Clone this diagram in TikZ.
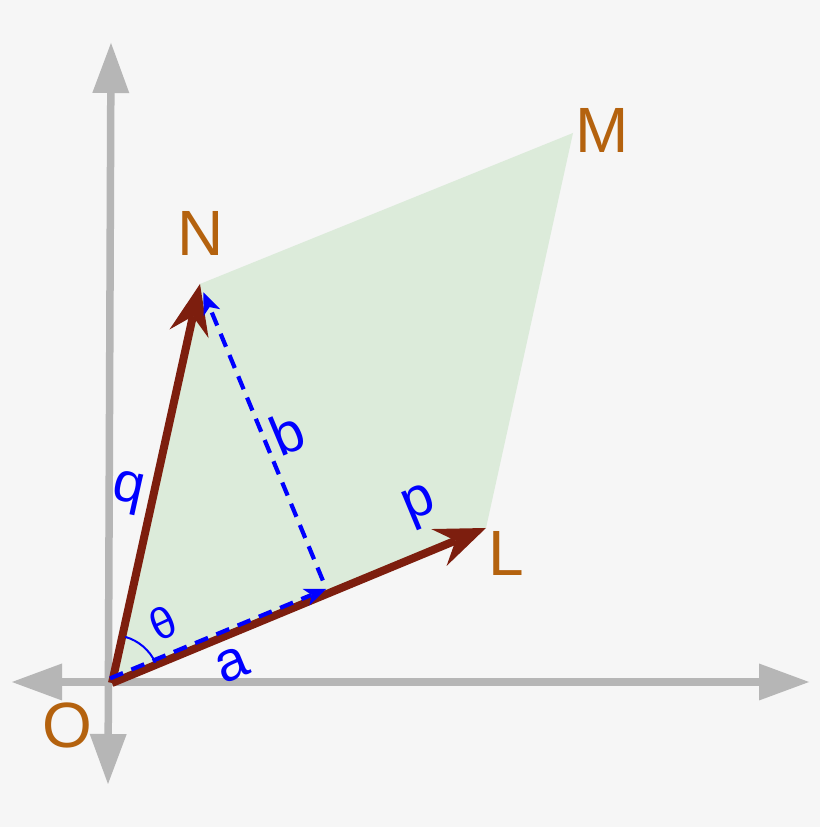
\documentclass[tikz,border=0pt]{standalone}
\usepackage{fontspec}
\setmainfont{Liberation Sans}
\usetikzlibrary{arrows.meta,calc}
\definecolor{bggray}{RGB}{246,246,246}
\definecolor{axisgray}{RGB}{182,182,182}
\definecolor{vecred}{RGB}{125,30,14}
\definecolor{ptorange}{RGB}{180,98,14}
\definecolor{areagreen}{RGB}{220,235,218}

\begin{document}
\begin{tikzpicture}[x=1pt,y=1pt,
  axis/.style={draw=axisgray,line width=7.5pt,arrows={Triangle[length=50pt,width=37pt,line width=0pt]-Triangle[length=50pt,width=37pt,line width=0pt]}},
  vec/.style={draw=vecred,line width=8pt,arrows={-Stealth[length=51pt,width=40pt,inset=18pt,line width=0pt]}},
  proj/.style={draw=blue,line width=4.2pt,dash pattern=on 14pt off 9pt,arrows={-Stealth[length=22pt,width=18pt,inset=6pt,line width=0pt]}},
  pt/.style={text=ptorange,inner sep=0pt,font=\fontsize{64}{64}\selectfont},
  lab/.style={text=blue,inner sep=0pt,font=\fontsize{56}{56}\selectfont}]
  \fill[bggray] (0,0) rectangle (820,827);   % background
  \useasboundingbox (0,0) rectangle (820,827);
  \coordinate (O) at (112,144);   % origin
  \coordinate (L) at (486,299);   % tip of p
  \coordinate (N) at (200,543);   % tip of q
  \coordinate (M) at (573,694);   % far corner
  \coordinate (F) at ($(O)!(N)!(L)$);   % foot of the height b
  \coordinate (Oa) at ($(O)+(-1.9,4.6)$);
  \coordinate (Fa) at ($(F)+(-1.9,4.6)$);
  \coordinate (xl) at (12,145);   % axis ends
  \coordinate (xr) at (809,145);
  \coordinate (yb) at (108,43);
  \coordinate (yt) at (111,784);
  \fill[areagreen] (O) -- (L) -- (M) -- (N) -- cycle;   % parallelogram
  \draw[axis] (xl) -- (xr);   % horizontal axis
  \draw[axis] (yb) -- (yt);   % vertical axis
  \draw[vec] (O) -- (L);   % vector p
  \draw[vec] (O) -- (N);   % vector q
  \draw[proj] (Oa) -- (Fa);   % projection a
  \draw[proj,shorten <=14pt,shorten >=9pt] (F) -- (N);   % height b
  \draw[blue,line width=2pt] ($(O)+(25:48)$) arc[start angle=25,end angle=74,radius=48];   % angle theta
  \node[pt] (lO) at (67,102) {O};   % labels
  \node[pt] (lL) at (506,274) {L};
  \node[pt] (lN) at (201,594) {N};
  \node[pt] (lM) at (602,697) {M};
  \node[lab,rotate=22.5] (lp) at (420,320) {p};
  \node[lab,rotate=-12.4] (lq) at (128,334) {q};
  \node[lab,rotate=22.6] (lb) at (287,394) {b};
  \node[lab,rotate=22.5] (la) at (232,162) {a};
  \node[lab,rotate=25,font=\fontsize{44}{44}\selectfont] (lt) at (163,204) {θ};
\end{tikzpicture}
\end{document}
